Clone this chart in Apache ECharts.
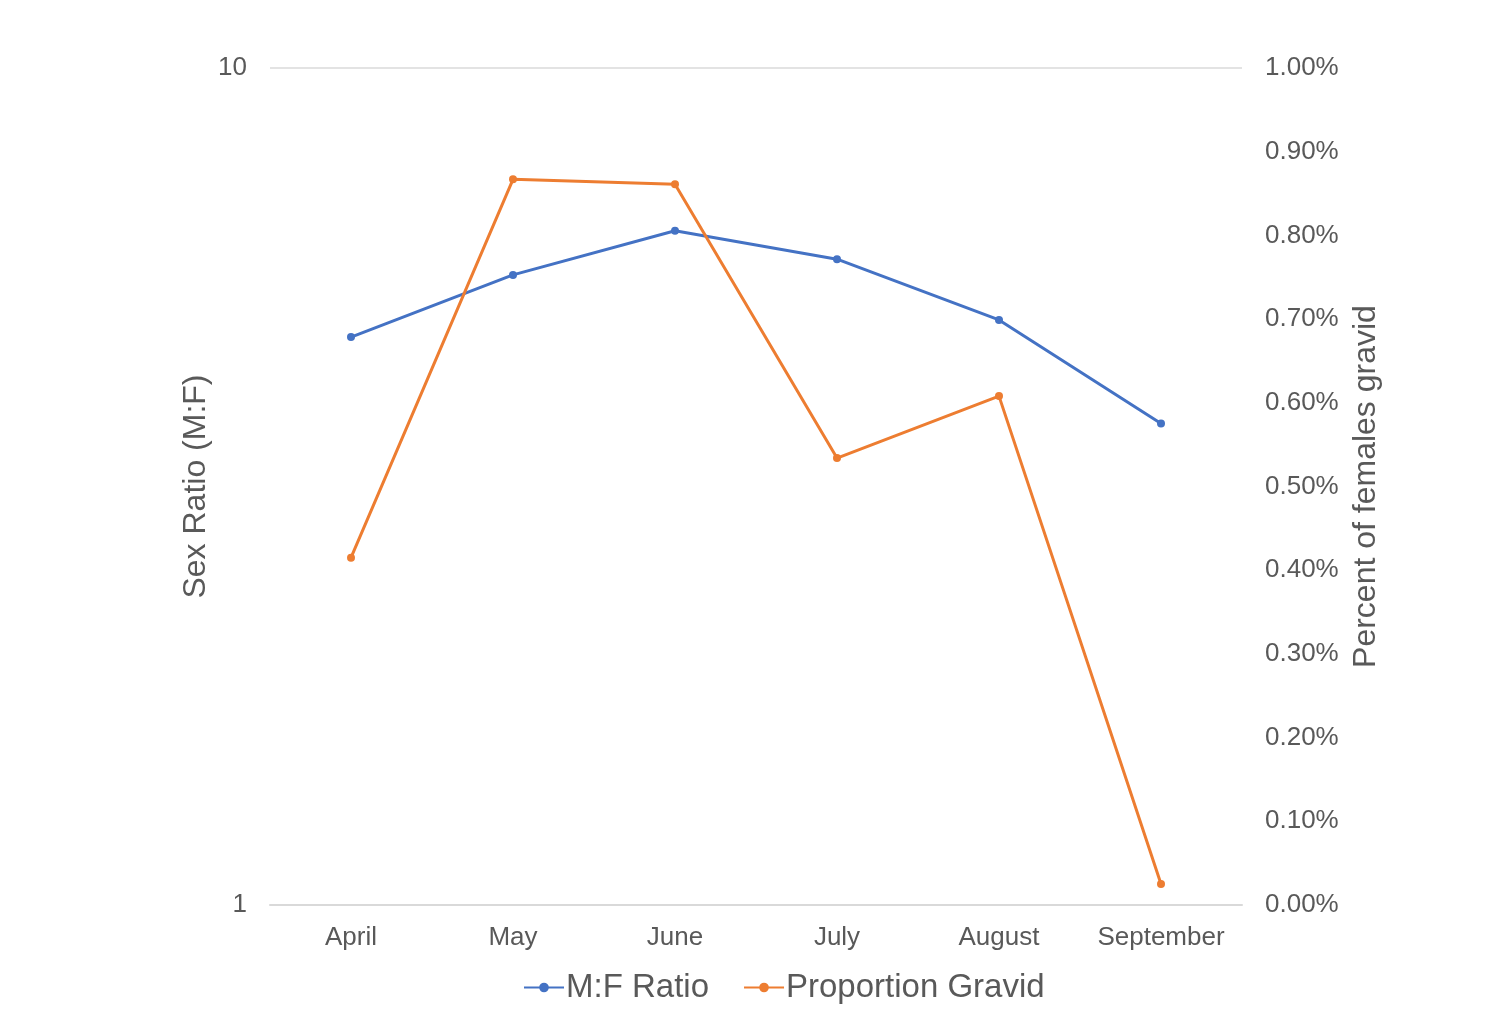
<!DOCTYPE html>
<html><head><meta charset="utf-8">
<script src="https://cdn.jsdelivr.net/npm/echarts@6/dist/echarts.min.js"></script>
<style>html,body{margin:0;padding:0;background:#fff}#c{width:1498px;height:1020px}</style>
</head><body><div id="c"></div>
<script>
const months = ['April','May','June','July','August','September'];
const mfRatio = [4.77, 5.66, 6.39, 5.91, 5.00, 3.76];
const propGravid = [0.00415, 0.00867, 0.00861, 0.00534, 0.00608, 0.00025];
const rightTicks = {min: 0, max: 0.01, interval: 0.001};

const txt = '#595959';
const font = 'Liberation Sans, Arial, Helvetica, sans-serif';
const chart = echarts.init(document.getElementById('c'));
chart.setOption({
  animation: false,
  textStyle: {fontFamily: font},
  grid: {left: 270, right: 256, top: 68, bottom: 115},
  legend: {
    bottom: 11, left: 518, itemWidth: 40, itemHeight: 12, itemGap: 34,
    textStyle: {fontSize: 33, color: txt, fontFamily: font, padding: [0, 0, 0, -3]},
    data: ['M:F Ratio', 'Proportion Gravid']
  },
  xAxis: {
    type: 'category', data: months, boundaryGap: true,
    axisTick: {show: false},
    axisLine: {lineStyle: {color: '#d9d9d9', width: 2}},
    axisLabel: {color: txt, fontSize: 26, margin: 20, interval: 0, hideOverlap: false, fontFamily: font}
  },
  yAxis: [{
    type: 'log', logBase: 10, min: 1, max: 10,
    name: 'Sex Ratio (M:F)', nameLocation: 'middle', nameGap: 58, nameRotate: 90, nameMoveOverlap: false,
    nameTextStyle: {fontSize: 32, color: txt, fontFamily: font},
    axisLine: {show: false}, axisTick: {show: false},
    axisLabel: {color: txt, fontSize: 26, margin: 23, fontFamily: font},
    splitLine: {show: true, lineStyle: {color: '#e3e3e3', width: 2}}
  }, {
    type: 'value', position: 'right', min: rightTicks.min, max: rightTicks.max, interval: rightTicks.interval,
    name: 'Percent of females gravid', nameLocation: 'middle', nameGap: 108, nameRotate: 90,
    nameTextStyle: {fontSize: 32, color: txt, fontFamily: font},
    axisLine: {show: false}, axisTick: {show: false},
    axisLabel: {color: txt, fontSize: 26, margin: 23, fontFamily: font,
      formatter: v => (v * 100).toFixed(2) + '%'},
    splitLine: {show: false}
  }],
  series: [{
    name: 'M:F Ratio', type: 'line', yAxisIndex: 0, data: mfRatio,
    symbol: 'circle', symbolSize: 8,
    itemStyle: {color: '#4472C4'}, lineStyle: {color: '#4472C4', width: 3}
  }, {
    name: 'Proportion Gravid', type: 'line', yAxisIndex: 1, data: propGravid,
    symbol: 'circle', symbolSize: 8,
    itemStyle: {color: '#ED7D31'}, lineStyle: {color: '#ED7D31', width: 3}
  }]
});
</script></body></html>
